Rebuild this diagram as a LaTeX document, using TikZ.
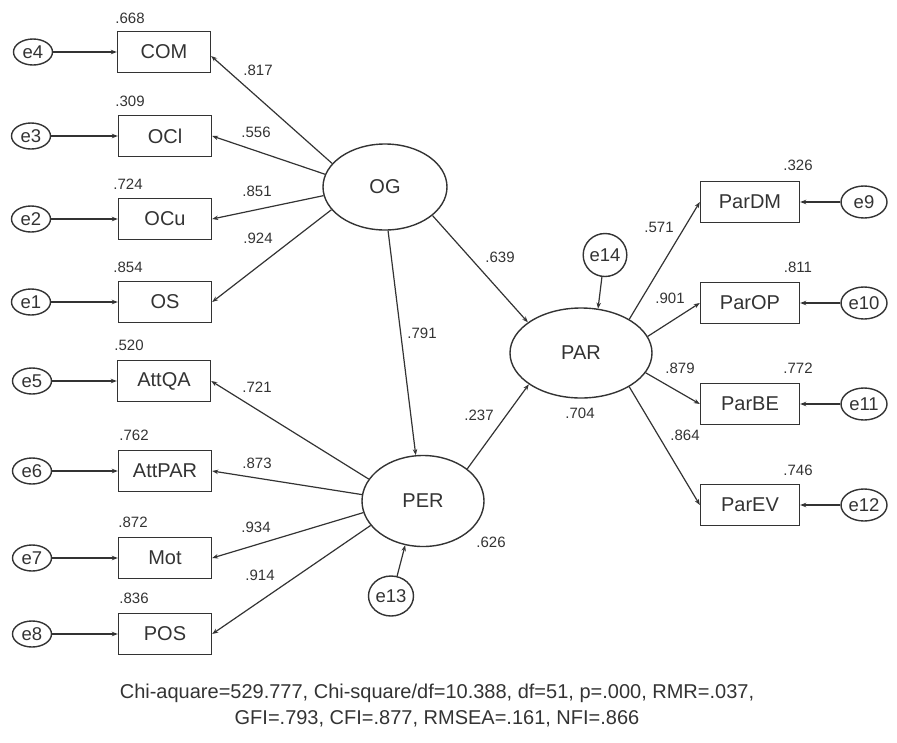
\documentclass[tikz,border=0pt]{standalone}
\usepackage{fontspec}
\setmainfont{Liberation Sans}
\usetikzlibrary{shapes.geometric,arrows.meta}
\definecolor{ink}{HTML}{333333}
\begin{document}
\begin{tikzpicture}[x=1pt,y=-1pt,
 every node/.style={text=ink},
 obs/.style={draw=ink,line width=1.4pt,rectangle,minimum width=93pt,minimum height=41pt,inner sep=0pt,font=\fontsize{20}{22}\selectfont},
 obsr/.style={obs,minimum width=99pt},
 lat/.style={draw=ink,line width=1.4pt,ellipse,inner sep=0pt,font=\fontsize{20}{22}\selectfont},
 err/.style={draw=ink,line width=1.4pt,ellipse,inner sep=0pt,minimum width=39pt,minimum height=26pt,font=\fontsize{18.5}{20}\selectfont},
 errr/.style={err,minimum width=46pt,minimum height=32pt},
 val/.style={font=\fontsize{15}{17}\selectfont,inner sep=0pt},
 arr/.style={draw=ink,line width=1.2pt,-{Stealth[length=6pt,width=4.5pt]}}
]
\useasboundingbox (0,0) rectangle (897,742);

% latent variables
\node[lat,minimum width=124pt,minimum height=86pt] (OG) at (385,187) {OG};
\node[lat,minimum width=122pt,minimum height=91pt] (PER) at (423,501) {PER};
\node[lat,minimum width=142pt,minimum height=90pt] (PAR) at (581,353) {PAR};

% left observed
\node[obs] (COM) at (164,52) {COM};
\node[obs] (OCl) at (165,136) {OCl};
\node[obs] (OCu) at (165,219) {OCu};
\node[obs] (OS) at (165,302) {OS};
\node[obs] (AttQA) at (164,381) {AttQA};
\node[obs] (AttPAR) at (165,471) {AttPAR};
\node[obs] (Mot) at (165,558) {Mot};
\node[obs] (POS) at (165,634) {POS};

% right observed
\node[obsr] (ParDM) at (750,202) {ParDM};
\node[obsr] (ParOP) at (750,303) {ParOP};
\node[obsr] (ParBE) at (750,404) {ParBE};
\node[obsr] (ParEV) at (750,505) {ParEV};

% errors left
\node[err] (e4) at (33,52) {e4};
\node[err] (e3) at (31,136) {e3};
\node[err] (e2) at (31,219) {e2};
\node[err] (e1) at (31,302) {e1};
\node[err] (e5) at (32,381) {e5};
\node[err] (e6) at (32,471) {e6};
\node[err] (e7) at (32,558) {e7};
\node[err] (e8) at (32,634) {e8};

% errors right
\node[errr] (e9) at (864,202) {e9};
\node[errr] (e10) at (864,303) {e10};
\node[errr] (e11) at (864,404) {e11};
\node[errr] (e12) at (864,505) {e12};

% structural errors
\node[err,minimum width=45pt,minimum height=40pt] (e13) at (391,596) {e13};
\node[err,minimum width=43pt,minimum height=43pt] (e14) at (605,255) {e14};

% error arrows
\foreach \e/\b in {e4/COM,e3/OCl,e2/OCu,e1/OS,e5/AttQA,e6/AttPAR,e7/Mot,e8/POS}
  \draw[arr] (\e.east) -- (\b.west);
\foreach \e/\b in {e9/ParDM,e10/ParOP,e11/ParBE,e12/ParEV}
  \draw[arr] (\e.west) -- (\b.east);
\draw[arr] (e13.73) -- (PER.248);
\draw[arr] (e14.262) -- (PAR.69);

% loadings
\draw[arr] (OG.156) -- ([yshift=-4pt]COM.east);
\draw[arr] (OG.168) -- (OCl.east);
\draw[arr] (OG.188) -- (OCu.east);
\draw[arr] (OG.203) -- (OS.east);
\draw[arr] (PER.158) -- (AttQA.east);
\draw[arr] (PER.174) -- (AttPAR.east);
\draw[arr] (PER.191) -- (Mot.east);
\draw[arr] (PER.205) -- (POS.east);
\draw[arr] (PAR.35) -- (ParDM.west);
\draw[arr] (PAR.14) -- (ParOP.west);
\draw[arr] (PAR.-17) -- (ParBE.west);
\draw[arr] (PAR.-35) -- (ParEV.west);

% structural paths
\draw[arr] (OG.274) -- (PER.99);
\draw[arr] (OG.-31) -- (PAR.150);
\draw[arr] (PER.36) -- (PAR.211);

% R-squared values
\node[val] (r1) at (130,18) {.668};
\node[val] (r2) at (130,101) {.309};
\node[val] (r3) at (128,184) {.724};
\node[val] (r4) at (128,267) {.854};
\node[val] (r5) at (129,345) {.520};
\node[val] (r6) at (134,435) {.762};
\node[val] (r7) at (133,522) {.872};
\node[val] (r8) at (134,598) {.836};
\node[val] (r9) at (798,165) {.326};
\node[val] (r10) at (798,267) {.811};
\node[val] (r11) at (798,368) {.772};
\node[val] (r12) at (798,470) {.746};
\node[val] (r13) at (491,542) {.626};
\node[val] (r14) at (580,413) {.704};

% loading values
\node[val] (l1) at (258,70) {.817};
\node[val] (l2) at (256,132) {.556};
\node[val] (l3) at (257,191) {.851};
\node[val] (l4) at (258,238) {.924};
\node[val] (l5) at (257,387) {.721};
\node[val] (l6) at (257,463) {.873};
\node[val] (l7) at (256,527) {.934};
\node[val] (l8) at (260,575) {.914};
\node[val] (l9) at (659,227) {.571};
\node[val] (l10) at (670,298) {.901};
\node[val] (l11) at (680,368) {.879};
\node[val] (l12) at (685,435) {.864};
\node[val] (s1) at (422,333) {.791};
\node[val] (s2) at (500,257) {.639};
\node[val] (s3) at (479,415) {.237};

% fit indices
\node[align=center,inner sep=0pt,font=\fontsize{20}{26}\selectfont] (fit) at (437,706)
  {Chi-aquare=529.777, Chi-square/df=10.388, df=51, p=.000, RMR=.037,\\
   GFI=.793, CFI=.877, RMSEA=.161, NFI=.866};
\end{tikzpicture}
\end{document}
